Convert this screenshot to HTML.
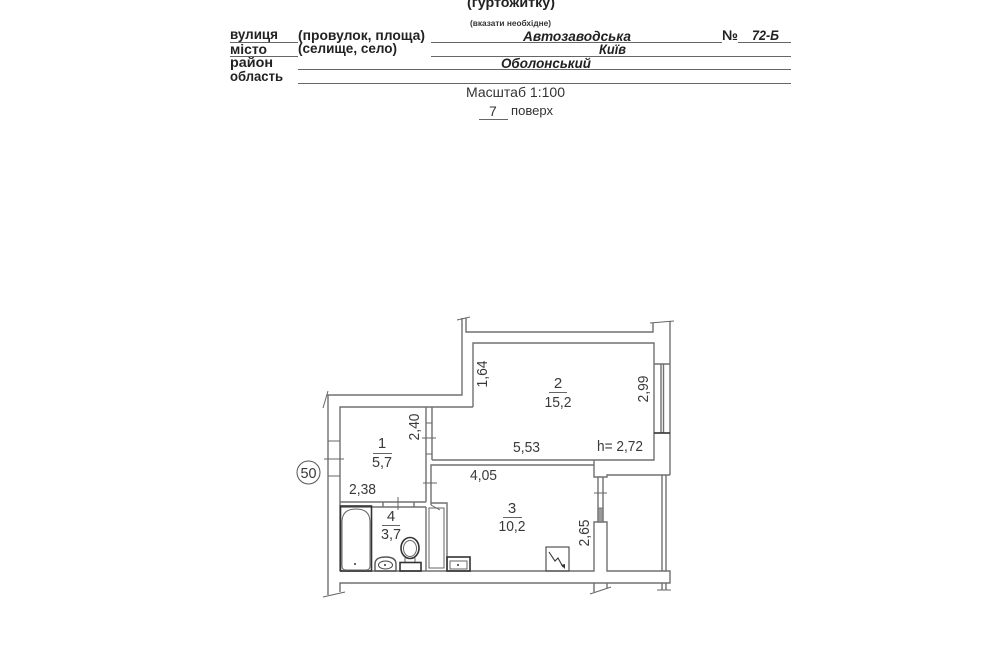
<!DOCTYPE html>
<html>
<head>
<meta charset="utf-8">
<style>
html,body{margin:0;padding:0;background:#fff;}
svg{display:block;filter:blur(0.35px);}
text{font-family:"Liberation Sans","DejaVu Sans",sans-serif;fill:#333;}
.h{font-size:14px;fill:#222;font-weight:bold;}
.i{font-size:14px;fill:#222;font-weight:bold;font-style:italic;}
.d{font-size:15px;fill:#3a3a3a;}
.w{fill:none;stroke:#707070;stroke-width:1.4;}
.k{fill:none;stroke:#333;stroke-width:1.6;}
.t{fill:none;stroke:#666;stroke-width:1;}
.u{stroke:#666;stroke-width:1.1;}
</style>
</head>
<body>
<svg width="1000" height="650" viewBox="0 0 1000 650" xmlns="http://www.w3.org/2000/svg">
<rect width="1000" height="650" fill="#fff"/>

<!-- Header -->
<text class="h" x="467" y="7" textLength="88" lengthAdjust="spacingAndGlyphs">(гуртожитку)</text>
<text x="470" y="26" font-size="8" font-weight="bold" textLength="81" lengthAdjust="spacingAndGlyphs">(вказати необхідне)</text>
<text class="h" x="230" y="39" textLength="48" lengthAdjust="spacingAndGlyphs">вулиця</text>
<text class="h" x="230" y="54" textLength="37" lengthAdjust="spacingAndGlyphs">місто</text>
<text class="h" x="230" y="67" textLength="43" lengthAdjust="spacingAndGlyphs">район</text>
<text class="h" x="230" y="81" textLength="53" lengthAdjust="spacingAndGlyphs">область</text>
<text class="h" x="298" y="40" textLength="127" lengthAdjust="spacingAndGlyphs">(провулок, площа)</text>
<text class="h" x="298" y="53" textLength="99" lengthAdjust="spacingAndGlyphs">(селище, село)</text>
<text class="i" x="523" y="41" textLength="108" lengthAdjust="spacingAndGlyphs">Автозаводська</text>
<text class="i" x="599" y="54" textLength="27" lengthAdjust="spacingAndGlyphs">Київ</text>
<text class="i" x="501" y="68" textLength="90" lengthAdjust="spacingAndGlyphs">Оболонський</text>
<text class="h" x="722" y="40" textLength="16" lengthAdjust="spacingAndGlyphs">№</text>
<text class="i" x="752" y="40" textLength="27" lengthAdjust="spacingAndGlyphs">72-Б</text>
<text x="466" y="97" font-size="14" textLength="99" lengthAdjust="spacingAndGlyphs">Масштаб 1:100</text>
<text x="489" y="116" font-size="14">7</text>
<text x="511" y="115" font-size="12.5" textLength="42" lengthAdjust="spacingAndGlyphs">поверх</text>
<line class="u" x1="230" y1="42.5" x2="298" y2="42.5"/>
<line class="u" x1="431" y1="42.5" x2="722" y2="42.5"/>
<line class="u" x1="738" y1="42.5" x2="791" y2="42.5"/>
<line class="u" x1="230" y1="56.5" x2="298" y2="56.5"/>
<line class="u" x1="431" y1="56.5" x2="791" y2="56.5"/>
<line class="u" x1="298" y1="69.5" x2="791" y2="69.5"/>
<line class="u" x1="298" y1="83.5" x2="791" y2="83.5"/>
<line class="u" x1="479" y1="119.5" x2="508" y2="119.5"/>

<!-- Outer walls -->
<path class="w" d="M327 395H462V318M466 318V332H653V323M670 321V475M328 395V595"/>
<path class="t" d="M457 320L470 317M650 323L674 321M323 408L328 391M323 597L345 592"/>
<path class="w" d="M340 592V583H670V571H607V522H594V571H340"/>

<!-- Room 2 -->
<path class="w" d="M473 407V343H654V460H432"/>
<!-- Room 1 -->
<path class="w" d="M340 571V407H473"/>
<path class="w" d="M426 407V499M432 407V460"/>
<path class="w" d="M340 502H426M340 507H426"/>
<path class="w" d="M383 502V507M414 502V507M426 499V502"/>
<!-- Room 3 -->
<path class="w" d="M431 505V465H594V460M594 465V477H607V475H670"/>
<path class="w" d="M598 477V522M603 477V522"/>
<rect x="598" y="508" width="5" height="14" fill="#999" stroke="#666" stroke-width="0.8"/>

<!-- Window -->
<path class="w" d="M654 364H670M661 364V433M663.5 364V433"/>
<path d="M654 433H670" stroke="#333" stroke-width="1.6" fill="none"/>

<!-- Balcony edge -->
<path class="w" d="M662 475V571M666 475V571M662 583V590M666 583V590"/>
<path class="t" d="M657 590H671M594 493H607"/>
<path class="w" d="M594 583V592M607 583V588"/>
<path class="t" d="M590 594L611 587"/>

<!-- Ticks -->
<path class="t" d="M328 441H340M324 459H344M328 476H340M426 423H432M422 438H436M426 454H432M423 483H437M398 497V510"/>

<!-- Closet / shaft -->
<path class="w" d="M431 503H447V571M426 507V571"/>
<rect class="t" x="429" y="508" width="15" height="60" stroke="#777"/>
<path class="t" d="M431 505L440 510"/>

<!-- Bath -->
<rect class="k" x="340.5" y="506" width="31" height="65"/>
<path class="t" d="M342 566V522Q342 509 356 509Q370 509 370 522V566Q370 570 366 570H346Q342 570 342 566Z"/>
<circle cx="355" cy="564" r="1" fill="#333"/>
<!-- Sink -->
<path d="M375 571V564Q375 557 385.500 557Q396 557 396 564V571Z" fill="none" stroke="#555" stroke-width="1.400"/>
<ellipse cx="385.500" cy="565" rx="7" ry="4" fill="none" stroke="#444" stroke-width="1"/>
<circle cx="385" cy="565" r="1" fill="#333"/>
<!-- Toilet -->
<ellipse class="k" cx="410" cy="548" rx="9" ry="10.500" stroke-width="1.300"/>
<ellipse class="t" cx="410" cy="548.500" rx="6.500" ry="8"/>
<path class="t" d="M405 558L405 562M415 558L415 562"/>
<rect class="k" x="400" y="562.500" width="21" height="8.500"/>
<!-- Kitchen sink -->
<rect class="k" x="447" y="557" width="23" height="14"/>
<rect class="t" x="450" y="561" width="17" height="8"/>
<circle cx="458" cy="565" r="1" fill="#333"/>

<!-- Electric panel -->
<rect x="546" y="547" width="23" height="24" fill="none" stroke="#444" stroke-width="1.100"/>
<path d="M549 552L555 561L558 558L563 567" fill="none" stroke="#333" stroke-width="1.100"/>
<path d="M561 565L565 569L565 564Z" fill="#333"/>

<!-- Room labels -->
<text class="d" x="382" y="448" text-anchor="middle">1</text>
<line class="u" x1="373" y1="453.500" x2="392" y2="453.500"/>
<text class="d" x="382" y="467" text-anchor="middle" textLength="20" lengthAdjust="spacingAndGlyphs">5,7</text>
<text class="d" x="558" y="388" text-anchor="middle">2</text>
<line class="u" x1="549" y1="392.500" x2="567" y2="392.500"/>
<text class="d" x="558" y="407" text-anchor="middle" textLength="27" lengthAdjust="spacingAndGlyphs">15,2</text>
<text class="d" x="512" y="513" text-anchor="middle">3</text>
<line class="u" x1="503" y1="517.500" x2="522" y2="517.500"/>
<text class="d" x="512" y="531" text-anchor="middle" textLength="27" lengthAdjust="spacingAndGlyphs">10,2</text>
<text class="d" x="391" y="521" text-anchor="middle">4</text>
<line class="u" x1="382" y1="525.500" x2="400" y2="525.500"/>
<text class="d" x="391" y="539" text-anchor="middle" textLength="20" lengthAdjust="spacingAndGlyphs">3,7</text>

<!-- Dimensions -->
<text class="d" x="513" y="452" textLength="27" lengthAdjust="spacingAndGlyphs">5,53</text>
<text class="d" x="597" y="451" textLength="46" lengthAdjust="spacingAndGlyphs">h= 2,72</text>
<text class="d" x="470" y="480" textLength="27" lengthAdjust="spacingAndGlyphs">4,05</text>
<text class="d" x="349" y="494" textLength="27" lengthAdjust="spacingAndGlyphs">2,38</text>
<text class="d" text-anchor="middle" transform="translate(487,374) rotate(-90)" textLength="27" lengthAdjust="spacingAndGlyphs">1,64</text>
<text class="d" text-anchor="middle" transform="translate(419,427) rotate(-90)" textLength="27" lengthAdjust="spacingAndGlyphs">2,40</text>
<text class="d" text-anchor="middle" transform="translate(648,389) rotate(-90)" textLength="27" lengthAdjust="spacingAndGlyphs">2,99</text>
<text class="d" text-anchor="middle" transform="translate(589,533) rotate(-90)" textLength="27" lengthAdjust="spacingAndGlyphs">2,65</text>

<!-- Axis marker -->
<circle cx="308.500" cy="472.500" r="11.500" fill="#fff" stroke="#555" stroke-width="1"/>
<text class="d" x="308.500" y="478" text-anchor="middle" font-size="14" textLength="16" lengthAdjust="spacingAndGlyphs">50</text>
</svg>
</body>
</html>
